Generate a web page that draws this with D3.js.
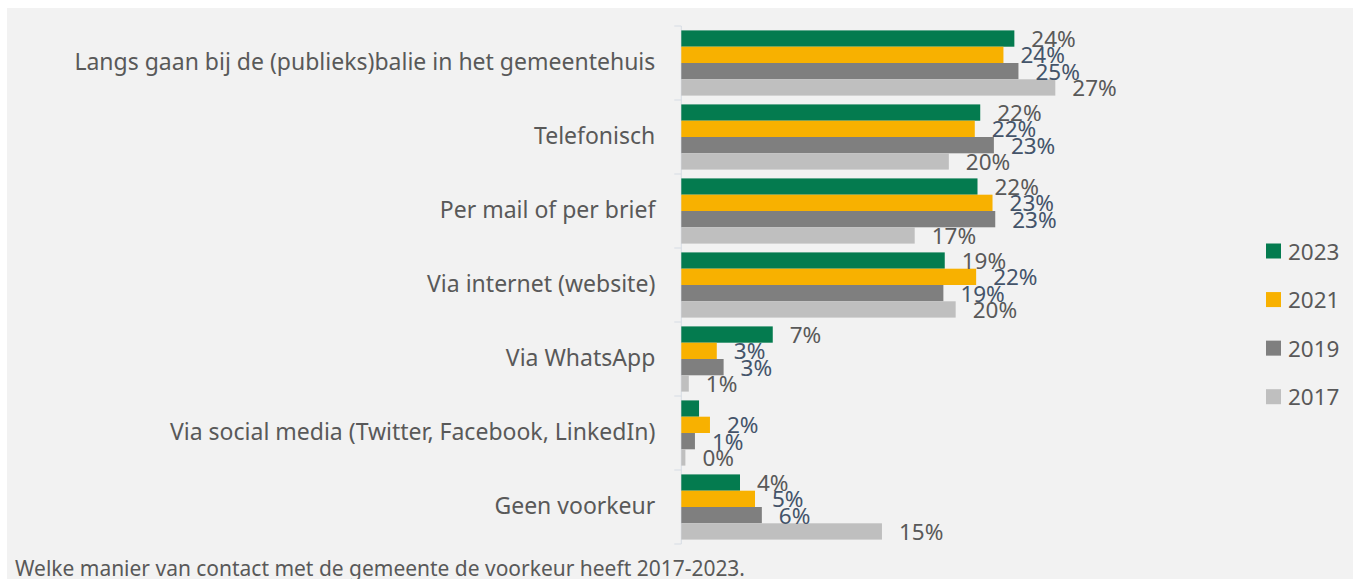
<!DOCTYPE html>
<html lang="nl">
<head>
<meta charset="UTF-8">
<title>Voorkeur contact gemeente</title>
<script src="https://cdn.jsdelivr.net/npm/d3@7"></script>
<style>
  body { margin: 0; background: #ffffff; }
  text { font-family: "Noto Sans", "Open Sans", sans-serif; }
</style>
</head>
<body>
<script type="text/javascript">
  // data (percent)
  var categories = [
    "Langs gaan bij de (publieks)balie in het gemeentehuis",
    "Telefonisch",
    "Per mail of per brief",
    "Via internet (website)",
    "Via WhatsApp",
    "Via social media (Twitter, Facebook, LinkedIn)",
    "Geen voorkeur"
  ];
  var series = ["2023", "2021", "2019", "2017"];
  var v2023 = [24.4, 21.9, 21.7, 19.3, 6.7, 1.3, 4.3];
  var v2021 = [23.6, 21.5, 22.8, 21.6, 2.6, 2.1, 5.4];
  var v2019 = [24.7, 22.9, 23.0, 19.2, 3.1, 1.0, 5.9];
  var v2017 = [27.4, 19.6, 17.1, 20.1, 0.55, 0.3, 14.7];
  // labels shown next to the bars (null = no label)
  var l2023 = ["24%", "22%", "22%", "19%", "7%", null, "4%"];
  var l2021 = ["24%", "22%", "23%", "22%", "3%", "2%", "5%"];
  var l2019 = ["25%", "23%", "23%", "19%", "3%", "1%", "6%"];
  var l2017 = ["27%", "20%", "17%", "20%", "1%", "0%", "15%"];
  var footnote = "Welke manier van contact met de gemeente de voorkeur heeft 2017-2023.";

  var values = { "2023": v2023, "2021": v2021, "2019": v2019, "2017": v2017 };
  var labels = { "2023": l2023, "2021": l2021, "2019": l2019, "2017": l2017 };
  var colors = { "2023": "#047b4f", "2021": "#f8b100", "2019": "#7f7f7f", "2017": "#bfbfbf" };
  var labelColors = { "2023": "#595959", "2021": "#44546a", "2019": "#44546a", "2017": "#595959" };

  var w = 1353;
  var h = 579;

  var svg = d3.select("body")
    .append("svg")
    .attr("width", w)
    .attr("height", h);

  // chart area background
  svg.append("rect")
    .attr("x", 7).attr("y", 8)
    .attr("width", w - 7).attr("height", h - 8)
    .attr("fill", "#f2f2f2");

  var xScale = d3.scaleLinear()
    .domain([0, 30])
    .range([681.3, 681.3 + 30 * 13.65]);

  var yScale = d3.scaleBand()
    .domain(categories)
    .range([26, 544]);

  var ySub = d3.scaleBand()
    .domain(series)
    .range([0, yScale.bandwidth()])
    .paddingInner(0)
    .paddingOuter(0.27);

  // category axis
  var yAxis = d3.axisLeft(yScale).tickSize(0).tickPadding(26);
  var gAxis = svg.append("g")
    .attr("transform", "translate(" + xScale(0) + ",0)")
    .call(yAxis);
  gAxis.select(".domain").remove();
  gAxis.selectAll("text")
    .attr("font-size", 23)
    .attr("fill", "#595959")
    .attr("font-family", "Noto Sans, Open Sans, sans-serif");

  // axis line with tick marks between the groups
  var tickYs = categories.map(function(c) { return yScale(c); }).concat([544]);
  svg.append("line")
    .attr("x1", xScale(0)).attr("x2", xScale(0))
    .attr("y1", 26).attr("y2", 544)
    .attr("stroke", "#d6dce4").attr("stroke-width", 1);
  svg.selectAll(".tickmark")
    .data(tickYs)
    .enter()
    .append("line")
    .attr("class", "tickmark")
    .attr("x1", xScale(0) - 7).attr("x2", xScale(0))
    .attr("y1", function(d) { return d; })
    .attr("y2", function(d) { return d; })
    .attr("stroke", "#d6dce4").attr("stroke-width", 1);

  // bars
  var rows = [];
  categories.forEach(function(c, i) {
    series.forEach(function(s) {
      rows.push({ cat: c, s: s, v: values[s][i], label: labels[s][i] });
    });
  });

  svg.selectAll(".bar")
    .data(rows)
    .enter()
    .append("rect")
    .attr("class", "bar")
    .attr("x", xScale(0))
    .attr("y", function(d) { return yScale(d.cat) + ySub(d.s); })
    .attr("width", function(d) { return xScale(d.v) - xScale(0); })
    .attr("height", ySub.bandwidth())
    .attr("fill", function(d) { return colors[d.s]; });

  svg.selectAll(".vlabel")
    .data(rows.filter(function(d) { return d.label !== null; }))
    .enter()
    .append("text")
    .attr("class", "vlabel")
    .attr("x", function(d) { return xScale(d.v) + 17; })
    .attr("y", function(d) { return yScale(d.cat) + ySub(d.s) + ySub.bandwidth() / 2; })
    .attr("dominant-baseline", "central")
    .attr("font-size", 22.5)
    .attr("fill", function(d) { return labelColors[d.s]; })
    .text(function(d) { return d.label; });

  // legend
  var legendY = d3.scalePoint()
    .domain(series)
    .range([251, 396.7]);

  var leg = svg.selectAll(".leg")
    .data(series)
    .enter()
    .append("g")
    .attr("class", "leg")
    .attr("transform", function(d) { return "translate(1266," + legendY(d) + ")"; });
  leg.append("rect")
    .attr("x", 0).attr("y", -7.5)
    .attr("width", 15).attr("height", 15)
    .attr("fill", function(d) { return colors[d]; });
  leg.append("text")
    .attr("x", 22).attr("y", 0)
    .attr("dominant-baseline", "central")
    .attr("font-size", 22.5)
    .attr("fill", "#595959")
    .text(function(d) { return d; });

  // footnote
  svg.append("text")
    .attr("x", 15).attr("y", 576)
    .attr("font-size", 21)
    .attr("fill", "#595959")
    .attr("textLength", 730)
    .attr("lengthAdjust", "spacingAndGlyphs")
    .text(footnote);
</script>
</body>
</html>
